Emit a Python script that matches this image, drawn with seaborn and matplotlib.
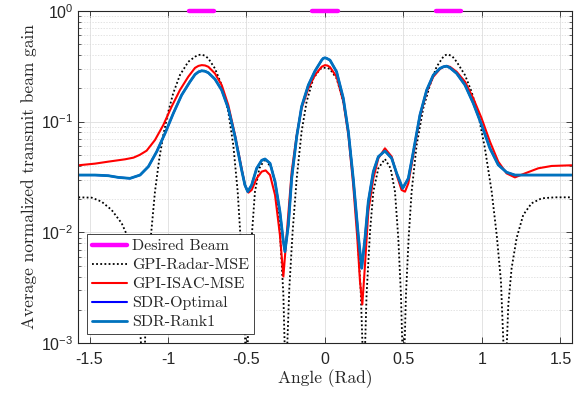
import numpy as np
import pandas as pd
import matplotlib
matplotlib.use("Agg")
import matplotlib.pyplot as plt
import seaborn as sns
from matplotlib.lines import Line2D
from matplotlib.ticker import LogLocator, NullFormatter

# desired beam: gain 1 over three angular sectors (rad)
desired_angle = [[-0.865, -0.708], [-0.080, 0.080], [0.708, 0.865]]
desired_gain = [1.0, 1.0]

# GPI-Radar-MSE (log10 of gain)
radar_angle = [-1.571, -1.486, -1.423, -1.359, -1.295, -1.253, -1.200, -1.155, -1.136, -1.110,
               -1.083, -1.055, -1.030, -0.998, -0.967, -0.924, -0.871, -0.828, -0.806, -0.785,
               -0.764, -0.743, -0.701, -0.658, -0.616, -0.584, -0.556, -0.535, -0.516, -0.500,
               -0.484, -0.467, -0.446, -0.418, -0.382, -0.340, -0.308, -0.287, -0.265, -0.250,
               -0.227, -0.206, -0.180, -0.149, -0.117, -0.074, -0.032, -0.016, 0.000, 0.016,
               0.032, 0.074, 0.117, 0.149, 0.180, 0.206, 0.227, 0.248, 0.265, 0.287,
               0.308, 0.340, 0.382, 0.418, 0.446, 0.467, 0.484, 0.500, 0.516, 0.533,
               0.552, 0.584, 0.626, 0.669, 0.711, 0.754, 0.770, 0.786, 0.812, 0.839,
               0.892, 0.934, 0.977, 1.019, 1.062, 1.094, 1.121, 1.148, 1.168, 1.189,
               1.221, 1.263, 1.316, 1.380, 1.465, 1.571]
radar_log = [-1.683, -1.686, -1.722, -1.797, -1.917, -2.050, -2.350, -3.400, -2.500, -2.050,
             -1.632, -1.331, -1.121, -0.910, -0.745, -0.580, -0.460, -0.414, -0.398, -0.396,
             -0.405, -0.430, -0.520, -0.670, -0.910, -1.211, -1.632, -2.113, -2.600, -3.400,
             -2.600, -2.050, -1.632, -1.421, -1.337, -1.421, -1.632, -1.992, -2.560, -3.400,
             -2.500, -1.992, -1.512, -1.091, -0.820, -0.610, -0.526, -0.516, -0.514, -0.516,
             -0.526, -0.610, -0.820, -1.091, -1.512, -1.992, -2.500, -3.400, -2.560, -1.992,
             -1.632, -1.421, -1.337, -1.421, -1.632, -2.050, -2.560, -3.400, -2.560, -2.050,
             -1.632, -1.211, -0.880, -0.670, -0.505, -0.414, -0.398, -0.394, -0.412, -0.460,
             -0.580, -0.730, -0.940, -1.241, -1.632, -2.022, -2.440, -3.400, -2.650, -2.323,
             -2.050, -1.842, -1.737, -1.692, -1.683, -1.683]

# GPI-ISAC-MSE
isac_angle = [-1.571, -1.465, -1.380, -1.274, -1.220, -1.180, -1.136, -1.083, -1.030, -0.977,
              -0.924, -0.871, -0.828, -0.806, -0.785, -0.764, -0.743, -0.701, -0.658, -0.616,
              -0.573, -0.531, -0.510, -0.488, -0.467, -0.435, -0.403, -0.378, -0.350, -0.318,
              -0.287, -0.265, -0.244, -0.212, -0.180, -0.149, -0.106, -0.064, -0.021, 0.000,
              0.016, 0.032, 0.074, 0.117, 0.149, 0.180, 0.206, 0.223, 0.238, 0.255,
              0.276, 0.308, 0.340, 0.382, 0.425, 0.457, 0.488, 0.510, 0.531, 0.563,
              0.605, 0.648, 0.690, 0.732, 0.754, 0.775, 0.796, 0.839, 0.892, 0.945,
              0.998, 1.051, 1.104, 1.157, 1.210, 1.274, 1.359, 1.444, 1.571]
isac_log = [-1.394, -1.379, -1.361, -1.340, -1.325, -1.300, -1.262, -1.166, -1.031, -0.865,
            -0.715, -0.595, -0.515, -0.497, -0.490, -0.493, -0.505, -0.565, -0.670, -0.850,
            -1.121, -1.421, -1.572, -1.641, -1.617, -1.512, -1.451, -1.440, -1.482, -1.662,
            -2.022, -2.398, -2.022, -1.451, -1.121, -0.880, -0.700, -0.580, -0.505, -0.490,
            -0.494, -0.508, -0.595, -0.820, -1.121, -1.572, -2.050, -2.440, -2.650, -2.293,
            -1.812, -1.512, -1.331, -1.241, -1.316, -1.482, -1.617, -1.632, -1.557, -1.301,
            -0.955, -0.730, -0.595, -0.526, -0.506, -0.499, -0.505, -0.550, -0.640, -0.790,
            -0.971, -1.181, -1.361, -1.467, -1.503, -1.467, -1.421, -1.400, -1.394]

# SDR-Optimal and SDR-Rank1 (the two curves coincide)
sdr_angle = [-1.571, -1.465, -1.380, -1.317, -1.242, -1.178, -1.125, -1.072, -1.019, -0.966,
             -0.913, -0.860, -0.828, -0.806, -0.785, -0.764, -0.743, -0.701, -0.658, -0.616,
             -0.573, -0.531, -0.510, -0.492, -0.467, -0.435, -0.403, -0.382, -0.350, -0.318,
             -0.287, -0.265, -0.255, -0.233, -0.212, -0.180, -0.149, -0.106, -0.064, -0.021,
             -0.011, 0.000, 0.011, 0.032, 0.074, 0.117, 0.149, 0.180, 0.212, 0.234,
             0.255, 0.276, 0.308, 0.340, 0.382, 0.425, 0.457, 0.495, 0.531, 0.563,
             0.605, 0.648, 0.690, 0.732, 0.754, 0.775, 0.796, 0.839, 0.892, 0.945,
             0.998, 1.051, 1.104, 1.157, 1.210, 1.274, 1.380, 1.571]
sdr_log = [-1.482, -1.482, -1.488, -1.503, -1.512, -1.482, -1.406, -1.271, -1.106, -0.925,
           -0.760, -0.640, -0.575, -0.551, -0.541, -0.545, -0.559, -0.616, -0.715, -0.880,
           -1.136, -1.436, -1.572, -1.632, -1.572, -1.421, -1.349, -1.337, -1.376, -1.542,
           -1.812, -2.083, -2.173, -1.932, -1.512, -1.136, -0.865, -0.670, -0.544, -0.445,
           -0.429, -0.424, -0.429, -0.445, -0.550, -0.790, -1.091, -1.512, -2.022, -2.323,
           -2.050, -1.722, -1.451, -1.316, -1.265, -1.331, -1.467, -1.602, -1.512, -1.271,
           -0.940, -0.715, -0.580, -0.520, -0.505, -0.499, -0.514, -0.565, -0.670, -0.835,
           -1.031, -1.241, -1.391, -1.457, -1.482, -1.482, -1.482, -1.482]

xtick_vals = [-1.5, -1, -0.5, 0, 0.5, 1, 1.5]
xtick_labels = ["-1.5", "-1", "-0.5", "0", "0.5", "1", "1.5"]

sns.set_style("ticks")
plt.rcParams["font.family"] = ["Liberation Sans", "DejaVu Sans"]
plt.rcParams["mathtext.fontset"] = "custom"
plt.rcParams["mathtext.rm"] = "Liberation Sans"
plt.rcParams["axes.unicode_minus"] = False

ax_col = "#262626"
fig = plt.figure(figsize=(5.85, 4.01), dpi=100)
ax = fig.add_axes([0.134, 0.144, 0.843, 0.829])

c_magenta = "#ff00ff"
c_red = "#ff0000"
c_blue = "#0000ff"
c_rank1 = "#0072bd"

for seg in desired_angle:
    sns.lineplot(x=seg, y=desired_gain, ax=ax, color=c_magenta, lw=3.2,
                 estimator=None, sort=False, clip_on=False, zorder=5)

sns.lineplot(x=radar_angle, y=10 ** np.array(radar_log), ax=ax, color="black", lw=1.3,
             linestyle=(0, (1, 1.3)), estimator=None, sort=False)
sns.lineplot(x=isac_angle, y=10 ** np.array(isac_log), ax=ax, color=c_red, lw=1.5,
             estimator=None, sort=False)
sns.lineplot(x=sdr_angle, y=10 ** np.array(sdr_log), ax=ax, color=c_blue, lw=1.5,
             estimator=None, sort=False)
sns.lineplot(x=sdr_angle, y=10 ** np.array(sdr_log), ax=ax, color=c_rank1, lw=2.0,
             estimator=None, sort=False)

ax.set_yscale("log")
ax.set_xlim(-np.pi / 2, np.pi / 2)
ax.set_ylim(1e-3, 1)
ax.set_xticks(xtick_vals)
ax.set_xticklabels(xtick_labels)
ax.yaxis.set_major_locator(LogLocator(base=10, numticks=10))
ax.yaxis.set_minor_locator(LogLocator(base=10, subs=np.arange(2, 10), numticks=20))
ax.yaxis.set_minor_formatter(NullFormatter())

ax.grid(True, which="major", color="#dedede", lw=0.6, linestyle="-")
ax.grid(True, which="minor", axis="y", color="#d8d8d8", lw=0.5, linestyle=(0, (2, 2)))
ax.set_axisbelow(True)

for sp in ax.spines.values():
    sp.set_visible(True)
    sp.set_color(ax_col)
    sp.set_linewidth(0.8)
ax.tick_params(which="both", direction="in", top=True, right=True, colors=ax_col,
               labelcolor=ax_col, labelsize=11.5)
ax.tick_params(which="major", length=4.5, width=0.6)
ax.tick_params(which="minor", length=2.5, width=0.5)
ax.tick_params(axis="x", pad=6)

ax.set_xlabel("Angle (Rad)", family="cmr10", fontsize=12.5, color=ax_col, labelpad=2)
ax.set_ylabel("Average normalized transmit beam gain", family="cmr10", fontsize=12.5,
              color=ax_col, labelpad=3)

handles = [
    Line2D([], [], color=c_magenta, lw=3.2),
    Line2D([], [], color="black", lw=1.3, linestyle=(0, (1, 1.3))),
    Line2D([], [], color=c_red, lw=1.5),
    Line2D([], [], color=c_blue, lw=1.5),
    Line2D([], [], color=c_rank1, lw=2.0),
]
labels = ["Desired Beam", "GPI-Radar-MSE", "GPI-ISAC-MSE", "SDR-Optimal", "SDR-Rank1"]
leg = ax.legend(handles, labels, loc="lower left", bbox_to_anchor=(0.018, 0.028),
                borderaxespad=0, prop={"family": "cmr10", "size": 11.5},
                handlelength=2.2, handletextpad=0.3, labelspacing=0.3,
                borderpad=0.3, fancybox=False, framealpha=1, edgecolor=ax_col)
leg.get_frame().set_linewidth(0.6)
leg.set_zorder(10)

fig.savefig("out.png", dpi=100)
